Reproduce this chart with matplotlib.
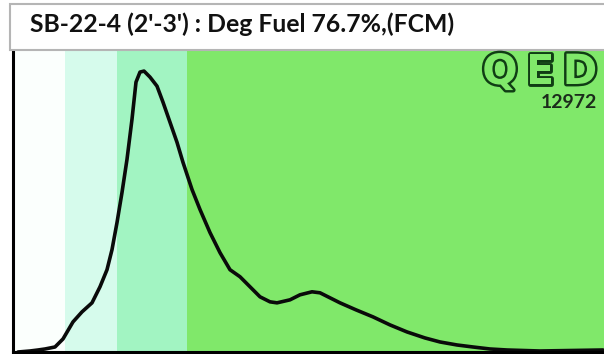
import matplotlib
matplotlib.use("Agg")
import matplotlib.pyplot as plt
import matplotlib.patheffects as pe
from matplotlib.patches import Rectangle

# chromatogram trace (retention, response)
retention = [0.5, 1.7, 2.5, 3.2, 4.2, 5.0, 6.0, 6.9, 7.9, 8.7, 9.4, 9.9, 10.4,
             10.9, 11.4, 11.9, 12.3, 12.7, 13.1, 13.7, 14.4, 15.0, 15.7, 16.4,
             17.0, 17.9, 18.7, 19.7, 20.7, 21.7, 22.7, 23.7, 24.7, 25.7, 26.4,
             27.7, 28.7, 29.9, 30.7, 31.7, 32.7, 34.3, 36.0, 37.7, 39.4, 41.2,
             42.7, 44.4, 46.0, 47.7, 49.4, 52.7, 59.0]
response = [0, 1, 2, 3, 5, 13, 30, 40, 49, 65, 82, 102, 129,
            159, 192, 232, 269, 279, 280, 274, 265, 249, 229, 209,
            189, 162, 142, 119, 99, 82, 75, 65, 55, 50, 49,
            52, 57, 60, 59, 54, 49, 42, 35, 27, 20, 14,
            10, 7, 5, 3, 2, 1, 2]

# shaded fuel ranges
band_edges = [0.0, 5.2, 10.4, 17.4, 59.1]
band_colors = ["#fbfffd", "#d6fbec", "#a2f4c2", "#80e86a"]

title = "SB-22-4 (2'-3') : Deg Fuel 76.7%,(FCM)"
logo = "QED"
sample_id = "12972"

fig = plt.figure(figsize=(6.04, 3.54), dpi=100)

# title box
fig.patches.append(Rectangle((10 / 604, 0.86), 1.0, 0.13, transform=fig.transFigure,
                             facecolor="white", edgecolor="#b5b5b5", lw=1.5))
fig.text(30 / 604, 1 - 24 / 354, title, fontsize=17.8, family="Lato",
         fontweight="bold", color="#111111", va="center", ha="left")

ax = fig.add_axes([13 / 604, 2 / 354, 1 - 13 / 604, 305 / 354])
for i in range(len(band_colors)):
    ax.axvspan(band_edges[i], band_edges[i + 1], color=band_colors[i], lw=0)

ax.plot(retention, response, color="#0a0a0a", lw=2.6,
        solid_capstyle="round", solid_joinstyle="round")
ax.set_xlim(band_edges[0], band_edges[-1])
ax.set_ylim(0, 304)
ax.set_xticks([])
ax.set_yticks([])
for side in ["left", "bottom", "top"]:
    ax.spines[side].set_linewidth(2.2)
    ax.spines[side].set_color("black")
ax.spines["right"].set_visible(False)

# logo letters, outlined
outline = [pe.Stroke(linewidth=3.5, foreground="#103d14"), pe.Normal()]
for ch, xp in zip(logo, [500, 540, 580]):
    fig.text(xp / 604, 1 - 72 / 354, ch, fontsize=30, fontweight="bold",
             color="#80e86a", ha="center", va="center", family="DejaVu Sans",
             path_effects=outline)
fig.text(597 / 604, 1 - 103 / 354, sample_id, fontsize=14, fontweight="bold",
         family="Lato", color="#1b2b1b", ha="right", va="center")

fig.savefig("out.png", dpi=100)
